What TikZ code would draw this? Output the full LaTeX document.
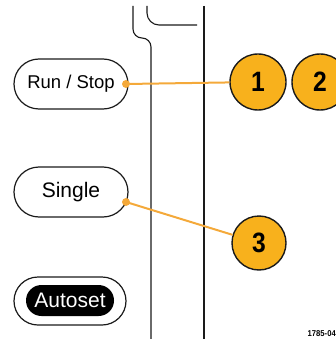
\documentclass[tikz,border=0pt]{standalone}
\usepackage{fontspec}
\setmainfont{Liberation Sans}
\definecolor{callout}{HTML}{F8B11C}
\definecolor{leader}{HTML}{F4A93A}
\definecolor{panel}{HTML}{1A1A1A}
\begin{document}
\begin{tikzpicture}[x=1pt,y=-1pt,
  pill/.style={draw=panel,line width=1.2pt,rounded corners=#1,inner sep=0pt,align=center},
  num/.style={circle,draw=panel,line width=1.4pt,fill=callout,minimum size=#1,inner sep=0pt,
    font=\fontsize{28}{28}\selectfont\bfseries},
  lead/.style={draw=leader,line width=2pt},
  dotmark/.style={circle,fill=leader,minimum size=8pt,inner sep=0pt},
  wall/.style={draw=panel,line width=1.1pt}]
\useasboundingbox (0,0) rectangle (336,339);
% panel lines
\draw[wall,rounded corners=9pt] (133,6) -- (133,38) -- (151,38) -- (151,345);
\draw[wall,rounded corners=12pt] (147,6) -- (147,25) -- (197,25);
\draw[wall] (204,6) -- (204,345);
% buttons
\node[pill=25pt,minimum width=114pt,minimum height=50pt,font=\fontsize{18.5}{20}\selectfont] (rs) at (71,84) {Run / Stop};
\node[pill=25pt,minimum width=114pt,minimum height=50pt,font=\fontsize{21}{22}\selectfont] (sg) at (71,192) {Single};
\node[pill=24pt,minimum width=112pt,minimum height=48pt] (ao) at (70,301) {};
\node[fill=black,rounded corners=15.5pt,minimum width=88pt,minimum height=31pt,inner sep=0pt,
  text=white,font=\fontsize{21}{22}\selectfont] (ai) at (70,300.5) {Autoset};
% callouts
\node[num=56pt] (c1) at (258,82) {\scalebox{0.88}[1]{1}};
\node[num=56pt] (c2) at (320,82) {\scalebox{0.88}[1]{2}};
\node[num=54pt] (c3) at (259,243) {\scalebox{0.88}[1]{3}};
\coordinate (rsdot) at (126,84);
\coordinate (sgdot) at (126,202);
\draw[lead] (rsdot) -- (c1);
\draw[lead] (sgdot) -- (c3);
\node[dotmark] (d1) at (rsdot) {};
\node[dotmark] (d2) at (sgdot) {};
\node[anchor=base east,inner sep=0pt,font=\fontsize{8.5}{9}\selectfont\bfseries] (id) at (336,336) {\scalebox{0.9}[1]{1785-04}};
\end{tikzpicture}
\end{document}
